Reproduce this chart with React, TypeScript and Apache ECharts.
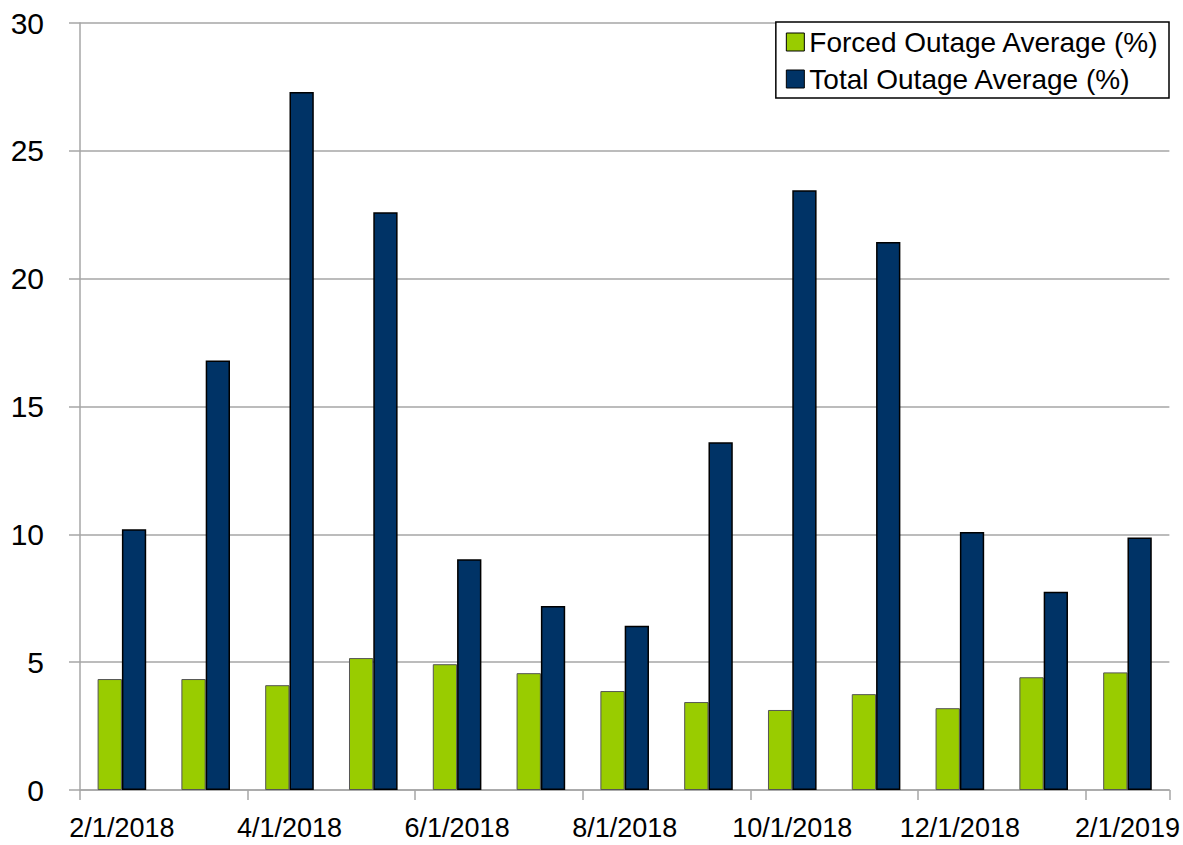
import React, { useEffect, useRef } from "react";
import * as echarts from "echarts";

const categories = [
  "2/1/2018", "3/1/2018", "4/1/2018", "5/1/2018", "6/1/2018", "7/1/2018", "8/1/2018",
  "9/1/2018", "10/1/2018", "11/1/2018", "12/1/2018", "1/1/2019", "2/1/2019",
];
const forcedOutage = [4.34, 4.34, 4.1, 5.16, 4.92, 4.57, 3.87, 3.44, 3.13, 3.75, 3.2, 4.41, 4.6];
const totalOutage = [10.2, 16.8, 27.3, 22.6, 9.03, 7.2, 6.42, 13.6, 23.46, 21.43, 10.09, 7.75, 9.88];
const seriesNames = ["Forced Outage Average (%)", "Total Outage Average (%)"];

const FONT = "'Liberation Sans', Arial, sans-serif";
const GRID_COLOR = "#a6a6a6";

export default function App() {
  const ref = useRef<HTMLDivElement>(null);
  useEffect(() => {
    if (!ref.current) return;
    const chart = echarts.init(ref.current, null, { renderer: "svg" });
    chart.setOption({
      animation: false,
      backgroundColor: "#fff",
      textStyle: { fontFamily: FONT },
      grid: { left: 80, right: 13, top: 23, bottom: 55, containLabel: false },
      legend: {
        orient: "vertical",
        right: 14,
        top: 22,
        itemWidth: 18,
        itemHeight: 18,
        itemGap: 3,
        padding: [3, 10, 2, 10],
        borderColor: "#000",
        borderWidth: 1.5,
        backgroundColor: "#fff",
        icon: "rect",
        textStyle: { fontSize: 28, color: "#000", fontFamily: FONT, lineHeight: 34 },
        itemStyle: { borderColor: "#000", borderWidth: 1 },
        data: seriesNames,
      },
      xAxis: {
        type: "category",
        data: categories,
        boundaryGap: true,
        axisLine: { show: true, lineStyle: { color: GRID_COLOR, width: 1.5 } },
        axisTick: {
          show: true,
          interval: (index: number) => index % 2 === 0 && index < categories.length,
          length: 10,
          lineStyle: { color: GRID_COLOR, width: 1.5 },
        },
        axisLabel: { interval: 1, fontSize: 27, color: "#000", margin: 24, fontFamily: FONT },
        splitLine: { show: false },
      },
      yAxis: {
        type: "value",
        min: 0,
        max: 30,
        interval: 5,
        axisLine: { show: true, lineStyle: { color: GRID_COLOR, width: 1.5 } },
        axisTick: { show: true, length: 11, lineStyle: { color: GRID_COLOR, width: 1.5 } },
        axisLabel: { fontSize: 30, color: "#000", margin: 36, fontFamily: FONT },
        splitLine: { show: true, lineStyle: { color: GRID_COLOR, width: 1.5 } },
      },
      series: [
        {
          name: seriesNames[0],
          type: "bar",
          data: forcedOutage,
          barGap: "0%",
          barCategoryGap: "42%",
          itemStyle: { color: "#99cc00", borderColor: "#555", borderWidth: 1 },
        },
        {
          name: seriesNames[1],
          type: "bar",
          data: totalOutage,
          barGap: "0%",
          barCategoryGap: "42%",
          itemStyle: { color: "#003366", borderColor: "#000", borderWidth: 1.5 },
        },
      ],
    });
    return () => chart.dispose();
  }, []);
  return (
    <div
      ref={ref}
      style={{ position: "fixed", left: 0, top: 0, width: 1183, height: 845 }}
    />
  );
}
